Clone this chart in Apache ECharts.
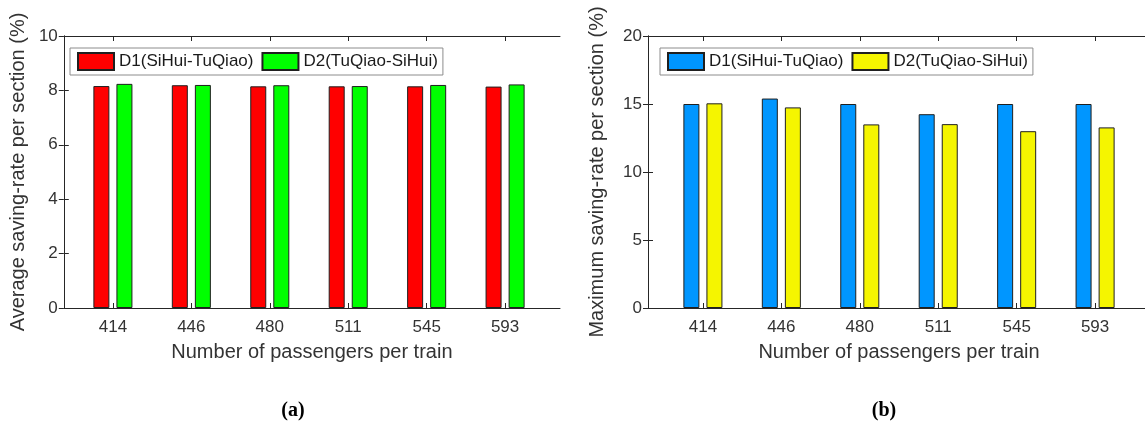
<!DOCTYPE html>
<html>
<head>
<meta charset="utf-8">
<script src="https://cdn.jsdelivr.net/npm/echarts@6/dist/echarts.min.js"></script>
<style>
  html, body { margin: 0; padding: 0; background: #fff; }
  #wrap { position: relative; width: 1145px; height: 423px; overflow: hidden; }
  #chartA { position: absolute; left: 0; top: 0; width: 575px; height: 423px; }
  #chartB { position: absolute; left: 575px; top: 0; width: 600px; height: 423px; }
</style>
</head>
<body>
<div id="wrap">
  <div id="chartA"></div>
  <div id="chartB"></div>
</div>
<script>
// Passenger counts per train (x categories)
const passengers = ['414', '446', '480', '511', '545', '593'];
const seriesNames = ['D1(SiHui-TuQiao)', 'D2(TuQiao-SiHui)'];

// (a) average saving-rate per section (%)
const avgD1 = [8.16, 8.19, 8.15, 8.15, 8.15, 8.14];
const avgD2 = [8.24, 8.20, 8.19, 8.16, 8.20, 8.22];

// (b) maximum saving-rate per section (%)
const maxD1 = [15.0, 15.4, 15.0, 14.25, 15.0, 15.0];
const maxD2 = [15.05, 14.75, 13.5, 13.52, 13.0, 13.28];

// y-axis ticks
const yTicksA = [0, 2, 4, 6, 8, 10];
const yTicksB = [0, 5, 10, 15, 20];

const FONT = "'Liberation Sans', Arial, sans-serif";
const SERIF = "'Liberation Serif', 'DejaVu Serif', serif";
const AXIS_COLOR = '#262626';
const TEXT_COLOR = '#333333';

// Plot frame geometry: the frame spans 6.4 category steps,
// the first category sits 0.7 step in from the left edge.
const FRAME_W = 502, FRAME_H = 272, FRAME_TOP = 36;
const STEP = FRAME_W / 6.4;

function buildOption(cfg) {
  const yMax = cfg.yTicks[cfg.yTicks.length - 1];
  const yStep = cfg.yTicks[1] - cfg.yTicks[0];
  const barLeft = cfg.gridLeft + 0.7 * STEP - STEP / 2;
  const hiddenAxisParts = {
    axisLabel: { show: false }, axisTick: { show: false }, splitLine: { show: false }
  };
  const lineStyle = { color: AXIS_COLOR, width: 1 };
  const tickStyle = { show: true, inside: true, length: 5, lineStyle: { color: AXIS_COLOR } };

  return {
    animation: false,
    backgroundColor: '#ffffff',
    textStyle: { fontFamily: FONT },
    title: {
      text: '{p|(}{b|' + cfg.caption + '}{p|)}',
      left: cfg.captionX, top: 396,
      textAlign: 'center',
      textStyle: {
        rich: {
          p: { fontFamily: SERIF, fontSize: 20, color: '#000' },
          b: { fontFamily: SERIF, fontSize: 20, fontWeight: 'bold', color: '#000' }
        }
      }
    },
    legend: {
      data: seriesNames,
      left: cfg.legendLeft, top: 48,
      icon: 'rect',
      itemWidth: 36, itemHeight: 17, itemGap: 8,
      padding: [4, 5, 4, 7],
      borderColor: '#8c8c8c', borderWidth: 1,
      backgroundColor: '#ffffff',
      textStyle: { fontSize: 17, color: '#1a1a1a', fontFamily: FONT }
    },
    grid: [
      // frame with the y scale
      { left: cfg.gridLeft, top: FRAME_TOP, width: FRAME_W, height: FRAME_H },
      // category band area holding the bars
      { left: barLeft, top: FRAME_TOP, width: 6 * STEP, height: FRAME_H }
    ],
    xAxis: [
      Object.assign({
        gridIndex: 0, type: 'value', min: 0, max: 1, position: 'bottom',
        axisLine: { show: true, onZero: false, lineStyle: lineStyle },
        name: 'Number of passengers per train',
        nameLocation: 'middle', nameGap: 34,
        nameTextStyle: { fontSize: 20, color: TEXT_COLOR, fontFamily: FONT }
      }, hiddenAxisParts),
      Object.assign({
        gridIndex: 0, type: 'value', min: 0, max: 1, position: 'top',
        axisLine: { show: true, onZero: false, lineStyle: lineStyle }
      }, hiddenAxisParts),
      {
        gridIndex: 1, type: 'category', data: passengers, position: 'bottom',
        boundaryGap: true,
        axisLine: { show: false },
        axisTick: Object.assign({ alignWithLabel: true }, tickStyle),
        axisLabel: { fontSize: 17, color: TEXT_COLOR, margin: 11, fontFamily: FONT },
        splitLine: { show: false }
      },
      {
        gridIndex: 1, type: 'category', data: passengers, position: 'top',
        boundaryGap: true,
        axisLine: { show: false },
        axisTick: Object.assign({ alignWithLabel: true }, tickStyle),
        axisLabel: { show: false },
        splitLine: { show: false }
      }
    ],
    yAxis: [
      {
        gridIndex: 0, type: 'value', min: 0, max: yMax, interval: yStep, position: 'left',
        axisLine: { show: true, lineStyle: lineStyle },
        axisTick: tickStyle,
        axisLabel: { fontSize: 17, color: TEXT_COLOR, margin: 6, fontFamily: FONT },
        splitLine: { show: false },
        name: cfg.yName,
        nameLocation: 'middle', nameGap: cfg.yNameGap,
        nameTextStyle: { fontSize: 20, color: TEXT_COLOR, fontFamily: FONT }
      },
      {
        gridIndex: 0, type: 'value', min: 0, max: yMax, interval: yStep, position: 'right',
        axisLine: { show: true, lineStyle: lineStyle },
        axisTick: tickStyle,
        axisLabel: { show: false },
        splitLine: { show: false }
      },
      Object.assign({
        gridIndex: 1, type: 'value', min: 0, max: yMax, interval: yStep,
        axisLine: { show: false }
      }, hiddenAxisParts)
    ],
    series: [
      {
        name: seriesNames[0], type: 'bar',
        xAxisIndex: 2, yAxisIndex: 2,
        barWidth: 16, barGap: '44%',
        itemStyle: { color: cfg.colors[0], borderColor: '#1f1f1f', borderWidth: 1 },
        data: cfg.d1
      },
      {
        name: seriesNames[1], type: 'bar',
        xAxisIndex: 2, yAxisIndex: 2,
        barWidth: 16, barGap: '44%',
        itemStyle: { color: cfg.colors[1], borderColor: '#1f1f1f', borderWidth: 1 },
        data: cfg.d2
      }
    ]
  };
}

const chartA = echarts.init(document.getElementById('chartA'), null, { renderer: 'canvas' });
chartA.setOption(buildOption({
  caption: 'a', captionX: 288,
  legendLeft: 70, gridLeft: 58,
  yTicks: yTicksA,
  yName: 'Average saving-rate per section (%)', yNameGap: 33,
  colors: ['#ff0000', '#00ff00'],
  d1: avgD1, d2: avgD2
}));

const chartB = echarts.init(document.getElementById('chartB'), null, { renderer: 'canvas' });
chartB.setOption(buildOption({
  caption: 'b', captionX: 879 - 575,
  legendLeft: 660 - 575, gridLeft: 648 - 575,
  yTicks: yTicksB,
  yName: 'Maximum saving-rate per section (%)', yNameGap: 41,
  colors: ['#0096ff', '#f5f500'],
  d1: maxD1, d2: maxD2
}));
</script>
</body>
</html>
